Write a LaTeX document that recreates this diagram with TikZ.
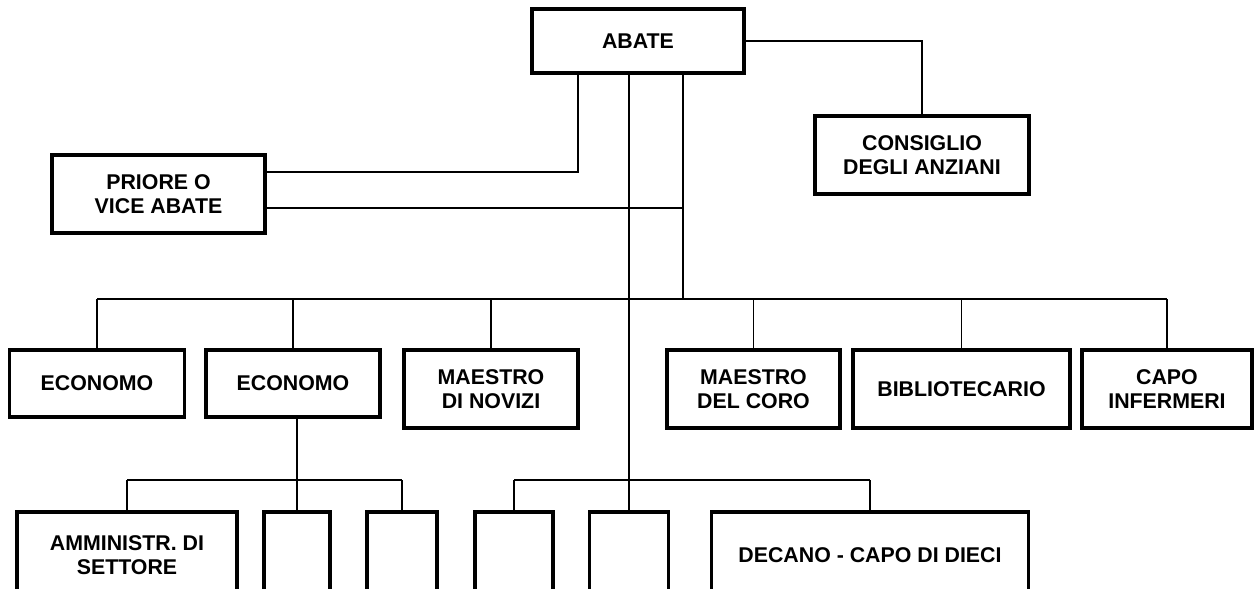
\documentclass[tikz,border=0pt]{standalone}
\usepackage{fontspec}
\setmainfont{Liberation Sans}

\tikzset{
  box/.style 2 args={draw, line width=2.5pt, align=center, inner sep=0pt,
    minimum width=#1*0.75pt, minimum height=#2*0.75pt,
    font=\bfseries\fontsize{16}{18}\selectfont},
  link/.style={draw, line width=1.1pt},
  busline/.style={draw, line width=1.5pt}
}

\begin{document}
\begin{tikzpicture}[x=0.75pt,y=0.75pt,yscale=-1,xscale=1]
\useasboundingbox (0,0) rectangle (1254,589);
\clip (0,0) rectangle (1254,589);

%Shape: Boxes, top
\node[box={212}{64}] (abate) at (638,41) {ABATE};
\node[box={214}{78}] (consiglio) at (922,155) {CONSIGLIO\\DEGLI ANZIANI};
\node[box={213}{78}] (priore) at (158.5,194) {PRIORE O\\VICE ABATE};

%Shape: Boxes, middle row
\node[box={175}{67}] (econ1) at (97,383.5) {ECONOMO};
\node[box={174}{67}] (econ2) at (293,383.5) {ECONOMO};
\node[box={174}{78}] (novizi) at (491,389) {MAESTRO\\DI NOVIZI};
\node[box={173}{78}] (coro) at (753.5,389) {MAESTRO\\DEL CORO};
\node[box={217}{78}] (biblio) at (961.5,389) {BIBLIOTECARIO};
\node[box={170}{78}] (capo) at (1167,389) {CAPO\\INFERMERI};

%Shape: Boxes, bottom row (cut by the page edge)
\node[box={220}{86}] (amm) at (127,555) {AMMINISTR. DI\\SETTORE};
\node[box={66}{86}] (e1) at (297,555) {};
\node[box={70}{86}] (e2) at (402,555) {};
\node[box={78}{86}] (e3) at (514,555) {};
\node[box={79}{86}] (e4) at (629,555) {};
\node[box={317}{86}] (decano) at (870,555) {DECANO - CAPO DI DIECI};

%Straight Lines: bends and buses
\coordinate (p1) at (578,172);
\coordinate (p2) at (683,208);
\coordinate (hub) at (683,299);
\coordinate (bus) at (0,299);
\coordinate (sub) at (0,480);

%Straight Lines: abate to priore and consiglio
\draw[link] (abate.south -| p1) |- (priore.east |- p1);
\draw[link] (abate.south -| p2) -- (hub);
\draw[link] (priore.east |- p2) -- (p2);
\draw[link] (abate.east) -| (consiglio.north);
\draw[link] (abate.south -| e4.north) -- (e4.north);

%Straight Lines: main bus
\draw[busline] (econ1.north |- bus) -- (capo.north |- bus);
\foreach \n in {econ1,econ2,novizi,coro,biblio,capo}
  \draw[link] (\n.north |- bus) -- (\n.north);

%Straight Lines: lower buses
\draw[link] (econ2.south -| e1.north) -- (e1.north);
\draw[link] (amm.north |- sub) -- (e2.north |- sub);
\draw[link] (e3.north |- sub) -- (decano.north |- sub);
\foreach \n in {amm,e2,e3,decano}
  \draw[link] (\n.north |- sub) -- (\n.north);

\end{tikzpicture}
\end{document}
